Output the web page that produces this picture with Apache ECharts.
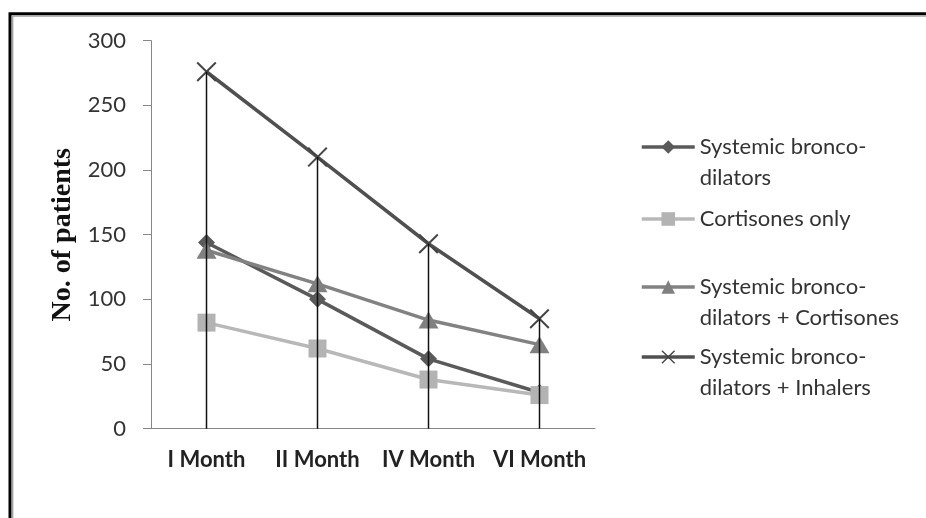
<!DOCTYPE html>
<html>
<head>
<meta charset="utf-8">
<script src="https://cdn.jsdelivr.net/npm/echarts@6/dist/echarts.min.js"></script>
<style>html,body{margin:0;padding:0;background:#fff}#c{width:926px;height:518px}</style>
</head>
<body>
<div id="c"></div>
<script>
var categories = ['I Month', 'II Month', 'IV Month', 'VI Month'];
var seriesNames = ['Systemic bronco-\ndilators', 'Cortisones only', 'Systemic bronco-\ndilators + Cortisones', 'Systemic bronco-\ndilators + Inhalers'];
var systemic = [144, 100, 54, 28];
var cortisonesOnly = [82, 62, 38, 26];
var systemicCortisones = [138, 112, 84, 65];
var systemicInhalers = [276, 210, 143, 85];
var yTicks = [0, 50, 100, 150, 200, 250, 300];
var yTitle = 'No. of patients';

var dropLineTops = categories.map(function (c, i) {
  return Math.max(systemic[i], cortisonesOnly[i], systemicCortisones[i], systemicInhalers[i]);
});

var xPath = 'path://M0,0.7L0.7,0L5,4.3L9.3,0L10,0.7L5.7,5L10,9.3L9.3,10L5,5.7L0.7,10L0,9.3L4.3,5Z';
var LH = 31;

function legendFor(name, iconY) {
  var twoLine = name.indexOf('\n') >= 0;
  return {
    data: [name], left: 640, top: iconY - (twoLine ? 1.5 : 0.5) * LH, padding: 0,
    itemWidth: 53, itemHeight: 17, selectedMode: false,
    lineStyle: { width: 3.5 },
    formatter: function (n) { return n.indexOf('\n') >= 0 ? ' \n' + n : n; },
    textStyle: { fontFamily: 'Lato', fontSize: 22, color: '#333', lineHeight: LH }
  };
}

var chart = echarts.init(document.getElementById('c'), null, { renderer: 'canvas' });
chart.setOption({
  animation: false,
  backgroundColor: '#fff',
  graphic: [
    { type: 'rect', shape: { x: 10, y: 13.8, width: 1000, height: 700 }, style: { fill: 'none', stroke: '#000', lineWidth: 3 }, silent: true },
    { type: 'rect', shape: { x: 12.6, y: 16, width: 1000, height: 700 }, style: { fill: 'none', stroke: '#a0a0a0', lineWidth: 1.5 }, silent: true }
  ],
  grid: { left: 151, right: 331, top: 40.7, bottom: 89.3 },
  legend: [
    legendFor(seriesNames[0], 147),
    legendFor(seriesNames[1], 219),
    legendFor(seriesNames[2], 287),
    legendFor(seriesNames[3], 357)
  ],
  xAxis: {
    type: 'category', data: categories, boundaryGap: true,
    axisLine: { lineStyle: { color: '#868686', width: 1 } },
    axisTick: { show: false },
    axisLabel: { interval: 0, fontFamily: 'Lato', fontWeight: 'bold', fontSize: 22, color: '#222', margin: 20 },
    splitLine: { show: false }
  },
  yAxis: {
    type: 'value', min: yTicks[0], max: yTicks[yTicks.length - 1], interval: 50,
    name: yTitle, nameLocation: 'middle', nameRotate: 90, nameGap: 74,
    nameTextStyle: { fontFamily: 'Liberation Serif', fontWeight: 'bold', fontSize: 28, color: '#111' },
    axisLine: { show: true, lineStyle: { color: '#868686', width: 1 } },
    axisTick: { show: true, length: 8, lineStyle: { color: '#868686' } },
    axisLabel: { fontFamily: 'Lato', fontSize: 22, color: '#333', margin: 25 },
    splitLine: { show: false }
  },
  series: [
    { name: seriesNames[0], type: 'line', data: systemic, symbol: 'diamond', symbolSize: 17,
      lineStyle: { color: '#5a5a5a', width: 3.5 }, itemStyle: { color: '#5a5a5a' }, z: 2 },
    { name: seriesNames[1], type: 'line', data: cortisonesOnly, symbol: 'rect', symbolSize: 18,
      lineStyle: { color: '#b8b8b8', width: 3.5 }, itemStyle: { color: '#b3b3b3' }, z: 3 },
    { name: seriesNames[2], type: 'line', data: systemicCortisones, symbol: 'triangle', symbolSize: [20, 17],
      lineStyle: { color: '#828282', width: 3.5 }, itemStyle: { color: '#808080' }, z: 4 },
    { name: seriesNames[3], type: 'line', data: systemicInhalers, symbol: xPath, symbolSize: 20,
      lineStyle: { color: '#505050', width: 3.5 }, itemStyle: { color: '#454545' }, z: 5 },
    { name: 'drop', type: 'bar', data: dropLineTops, barWidth: 1.5, silent: true,
      itemStyle: { color: '#111' }, z: 10 }
  ]
});
</script>
</body>
</html>
